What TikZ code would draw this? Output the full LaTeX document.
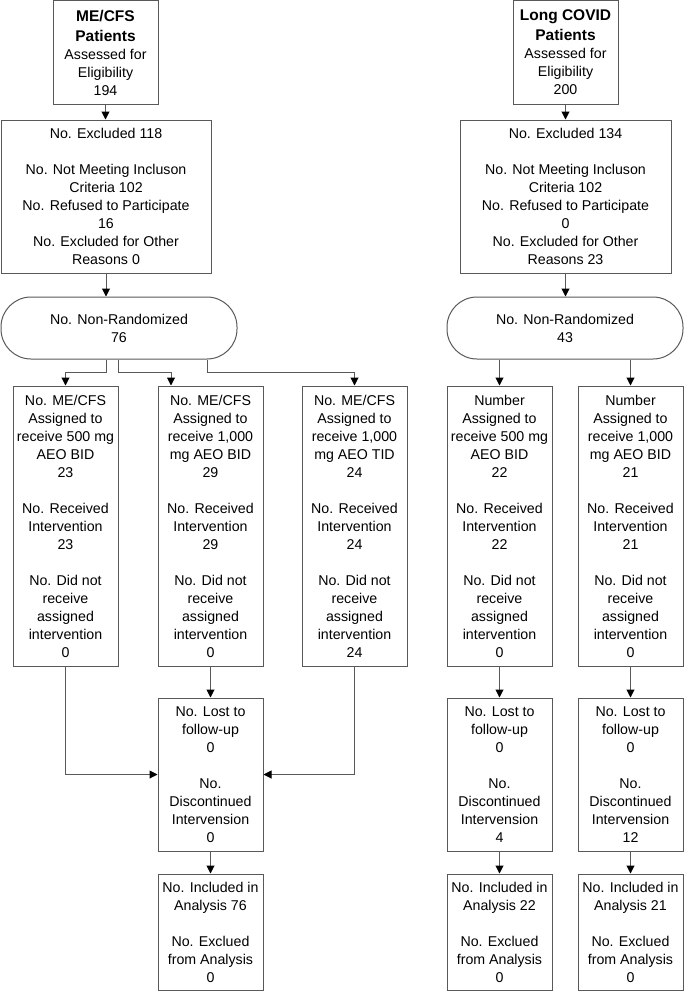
\documentclass[tikz,border=0pt]{standalone}
\usepackage{fontspec}
\setmainfont{Liberation Sans}
\usetikzlibrary{arrows.meta}
\tikzset{
  base/.style={draw=black!65, line width=1pt, fill=white, align=center, inner sep=0pt,
    font=\fontsize{14.2}{18}\selectfont, text=black},
  boxA/.style={base, minimum width=105pt, minimum height=104pt},
  exbox/.style={base, minimum width=210pt, minimum height=153pt},
  term/.style={base, minimum width=236pt, minimum height=62pt, rounded corners=30pt},
  armbox/.style={base, minimum width=105pt, minimum height=280pt},
  lostbox/.style={base, minimum width=105pt, minimum height=153pt},
  anabox/.style={base, minimum width=105pt, minimum height=116pt},
  conn/.style={draw=black!65, line width=1pt, -{Triangle[length=8pt,width=8pt,color=black]}},
  ttl/.style={font=\fontsize{15.5}{21}\selectfont\bfseries}
}
\begin{document}
\begin{tikzpicture}[x=1pt,y=-1pt]
\useasboundingbox (0,0) rectangle (685,991);
% ---------------- ME/CFS ----------------
\node[boxA] (mtop) at (105.5,52.5) {{\fontsize{15.5}{21}\selectfont\bfseries ME/CFS}\\[2pt]{\fontsize{15.5}{19}\selectfont\bfseries Patients}\\Assessed for\\Eligibility\\194};
\node[exbox] (mexc) at (106,196.5) {No. Excluded 118\\[18pt]No. Not Meeting Incluson\\Criteria 102\\No. Refused to Participate\\16\\No. Excluded for Other\\Reasons 0};
\node[term] (mnr) at (119,328) {No. Non-Randomized\\76};
\node[armbox] (ma) at (65.5,526) {No. ME/CFS\\Assigned to\\receive 500 mg\\AEO BID\\23\\[18pt]No. Received\\Intervention\\23\\[18pt]No. Did not\\receive\\assigned\\intervention\\0};
\node[armbox] (mb) at (210.5,526) {No. ME/CFS\\Assigned to\\receive 1,000\\mg AEO BID\\29\\[18pt]No. Received\\Intervention\\29\\[18pt]No. Did not\\receive\\assigned\\intervention\\0};
\node[armbox] (mc) at (354.5,526) {No. ME/CFS\\Assigned to\\receive 1,000\\mg AEO TID\\24\\[18pt]No. Received\\Intervention\\24\\[18pt]No. Did not\\receive\\assigned\\intervention\\24};
\node[lostbox] (mlost) at (210.5,774.5) {No. Lost to\\follow-up\\0\\[18pt]No.\\Discontinued\\Intervension\\0};
\node[anabox] (mana) at (210.5,932) {No. Included in\\Analysis 76\\[18pt]No. Exclued\\from Analysis\\0};
% ---------------- Long COVID ----------------
\node[boxA] (ltop) at (565.5,52.5) {{\fontsize{15.5}{21}\selectfont\bfseries Long COVID}\\[2pt]{\fontsize{15.5}{19}\selectfont\bfseries Patients}\\Assessed for\\Eligibility\\200};
\node[exbox, minimum width=211pt] (lexc) at (565.5,196.5) {No. Excluded 134\\[18pt]No. Not Meeting Incluson\\Criteria 102\\No. Refused to Participate\\0\\No. Excluded for Other\\Reasons 23};
\node[term] (lnr) at (565,328) {No. Non-Randomized\\43};
\node[armbox] (la) at (499.5,526) {Number\\Assigned to\\receive 500 mg\\AEO BID\\22\\[18pt]No. Received\\Intervention\\22\\[18pt]No. Did not\\receive\\assigned\\intervention\\0};
\node[armbox] (lb) at (630.5,526) {Number\\Assigned to\\receive 1,000\\mg AEO BID\\21\\[18pt]No. Received\\Intervention\\21\\[18pt]No. Did not\\receive\\assigned\\intervention\\0};
\node[lostbox] (llosta) at (499.5,774.5) {No. Lost to\\follow-up\\0\\[18pt]No.\\Discontinued\\Intervension\\4};
\node[lostbox] (llostb) at (630.5,774.5) {No. Lost to\\follow-up\\0\\[18pt]No.\\Discontinued\\Intervension\\12};
\node[anabox] (lanaa) at (499.5,932) {No. Included in\\Analysis 22\\[18pt]No. Exclued\\from Analysis\\0};
\node[anabox] (lanab) at (630.5,932) {No. Included in\\Analysis 21\\[18pt]No. Exclued\\from Analysis\\0};
% ---------------- connectors left ----------------
\draw[conn] (mtop.south) -- (mtop.south |- mexc.north);
\draw[conn] (mexc.south) -- (mexc.south |- mnr.north);
\draw[conn] ([xshift=-13pt]mnr.south) -- ++(0,13) -| (ma.north);
\draw[conn] ([xshift=-1pt]mnr.south) -- ++(0,13) -| ([xshift=-39.5pt]mb.north);
\draw[conn] ([xshift=88pt]mnr.south) -- ++(0,13) -| (mc.north);
\draw[conn] (ma.south) |- (mlost.west);
\draw[conn] (mc.south) |- (mlost.east);
\draw[conn] (mb.south) -- (mlost.north);
\draw[conn] (mlost.south) -- (mana.north);
% ---------------- connectors right ----------------
\draw[conn] (ltop.south) -- (ltop.south |- lexc.north);
\draw[conn] (lexc.south) -- (lexc.south |- lnr.north);
\draw[conn] (la.north |- lnr.south) -- (la.north);
\draw[conn] (lb.north |- lnr.south) -- (lb.north);
\draw[conn] (la.south) -- (llosta.north);
\draw[conn] (lb.south) -- (llostb.north);
\draw[conn] (llosta.south) -- (lanaa.north);
\draw[conn] (llostb.south) -- (lanab.north);
\end{tikzpicture}
\end{document}
